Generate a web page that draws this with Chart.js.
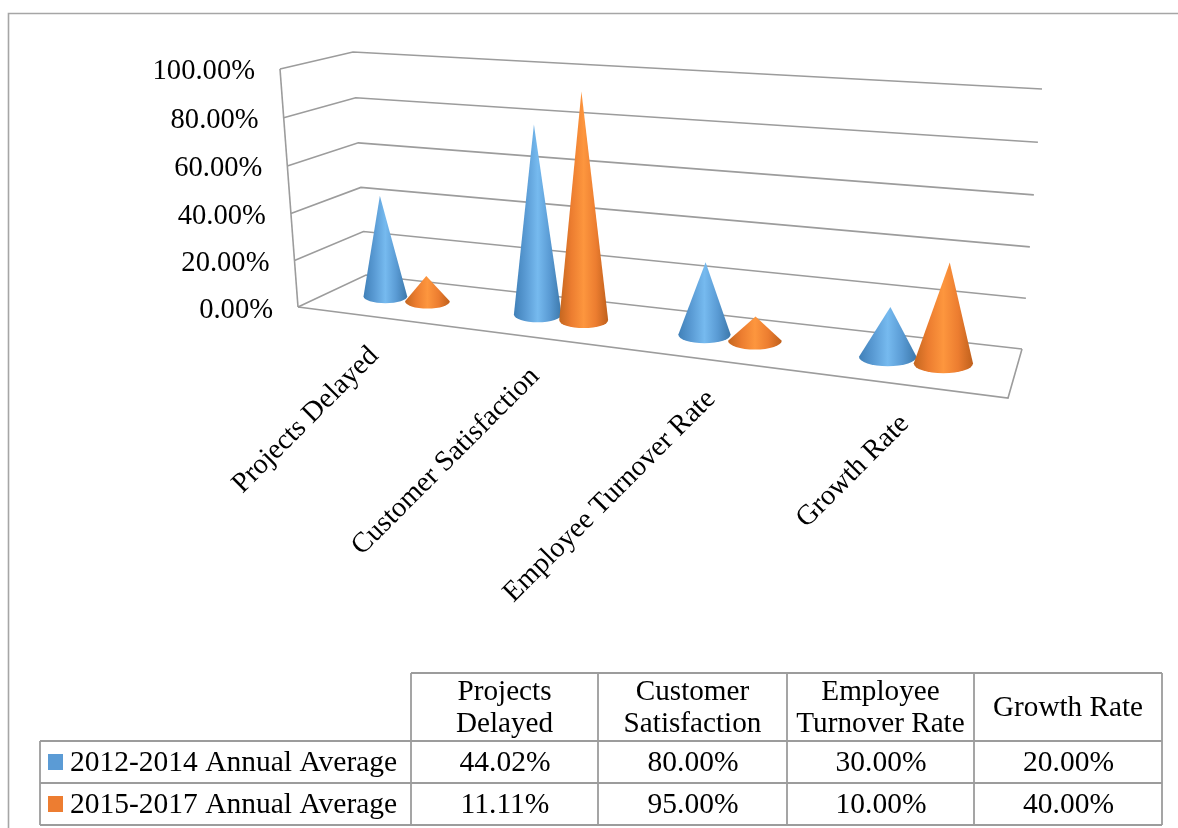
<!DOCTYPE html>
<html>
<head>
<meta charset="utf-8">
<style>
  html, body { margin: 0; padding: 0; background: #fff; overflow: hidden; }
  canvas { display: block; }
</style>
<script src="https://cdn.jsdelivr.net/npm/chart.js@4"></script>
</head>
<body>
<canvas id="coneChart" width="1178" height="828"></canvas>
<script>
const categories = ['Projects Delayed', 'Customer Satisfaction', 'Employee Turnover Rate', 'Growth Rate'];
const seriesNames = ['2012-2014 Annual Average', '2015-2017 Annual Average'];
const avg2012 = [44.02, 80, 30, 20];
const avg2015 = [11.11, 95, 10, 40];
const headerLines = [['Projects', 'Delayed'], ['Customer', 'Satisfaction'], ['Employee', 'Turnover Rate'], ['Growth Rate']];

const FONT = '"Liberation Serif", serif';
const GRID = '#9c9c9c';

// Corners of the 3D box on the page: [x, y], front/back, left/right, floor/top
const box = {
    fl0: [298, 307], fl1: [280, 69], fr0: [1008, 398], fr1: [1028, 138],
    bl0: [366, 275], bl1: [353, 52], br0: [1022, 349], br1: [1042, 89]
};
const CONE_DEPTH = 0.53;   // cones stand a bit behind the middle of the floor
const BASE_DEPTH = 0.21;   // half of the base circle, measured along the depth

// Table rulings
const tableCols = [411, 598, 787, 974, 1162];
const tableRows = [673, 741, 783, 825];
const tableLeft = 40;

const shades = [
    ['#4080b8', '#5a9bd4', '#76baef', '#5a9bd4', '#3c78ab'],
    ['#c4661f', '#ec7d30', '#fd963e', '#ec7d30', '#bf601c']
];
const swatches = ['#5b9bd5', '#ed7d31'];

function lerp(a, b, t) { return a + (b - a) * t; }

// u, v, d are 0..1 along the width, the height and the depth of the box
function project(u, v, d) {
    const pu = 0.83 * u / (1 - 0.17 * u);
    const pv = 0.97 * v / (1 - 0.03 * v);
    const out = [0, 1].map(i => {
        const f0 = lerp(box.fl0[i], box.fr0[i], pu);
        const f1 = lerp(box.fl1[i], box.fr1[i], pu);
        const b0 = lerp(box.bl0[i], box.br0[i], pu);
        const b1 = lerp(box.bl1[i], box.br1[i], pu);
        return lerp(lerp(f0, f1, pv), lerp(b0, b1, pv), d);
    });
    return { x: out[0], y: out[1] };
}

function uOf(chart, px) { return (px - chart.chartArea.left) / chart.chartArea.width; }
function vOf(chart, py) { return (chart.chartArea.bottom - py) / chart.chartArea.height; }

function strokePath(ctx, pts) {
    ctx.beginPath();
    pts.forEach((p, i) => i ? ctx.lineTo(p.x, p.y) : ctx.moveTo(p.x, p.y));
    ctx.stroke();
}

function drawWalls(chart) {
    const ctx = chart.ctx;
    const yScale = chart.scales.y;
    ctx.save();
    ctx.strokeStyle = GRID;
    ctx.lineWidth = 1.6;

    // side and back wall lines, one per tick
    yScale.ticks.forEach(tick => {
        const v = vOf(chart, yScale.getPixelForValue(tick.value));
        strokePath(ctx, [project(0, v, 0), project(0, v, 1), project(1, v, 1)]);
    });
    strokePath(ctx, [project(0, 0, 0), project(0, 1, 0)]);
    strokePath(ctx, [project(0, 0, 0), project(1, 0, 0), project(1, 0, 1)]);

    // value labels follow the slanted front edge
    ctx.fillStyle = '#000';
    ctx.font = '28.6px ' + FONT;
    ctx.textAlign = 'right';
    ctx.textBaseline = 'middle';
    yScale.ticks.forEach(tick => {
        const v = vOf(chart, yScale.getPixelForValue(tick.value));
        const p = project(0, v, 0);
        ctx.fillText(tick.value.toFixed(2) + '%', p.x - 25, p.y + 3.5 - v);
    });

    // category labels at 45 degrees, ending under the front edge
    const xScale = chart.scales.x;
    ctx.font = '28.5px ' + FONT;
    categories.forEach((name, i) => {
        const p = project(uOf(chart, xScale.getPixelForValue(i)), 0, 0);
        ctx.save();
        ctx.translate(p.x + 1, p.y + 35);
        ctx.rotate(-Math.PI / 4);
        ctx.textAlign = 'right';
        ctx.textBaseline = 'middle';
        ctx.fillText(name, 0, 0);
        ctx.restore();
    });
    ctx.restore();
}

function drawCone(chart, bar, colors) {
    const ctx = chart.ctx;
    const u = uOf(chart, bar.x);
    const halfU = uOf(chart, bar.x + bar.width / 2) - u;
    const center = project(u, 0, CONE_DEPTH);
    const tip = project(u, vOf(chart, bar.y), CONE_DEPTH);
    const rx = (project(u + halfU * 1.05, 0, CONE_DEPTH).x - project(u - halfU * 1.05, 0, CONE_DEPTH).x) / 2;
    const ry = Math.abs(project(u, 0, CONE_DEPTH - BASE_DEPTH).y - project(u, 0, CONE_DEPTH + BASE_DEPTH).y) / 2;

    const grad = ctx.createLinearGradient(center.x - rx, 0, center.x + rx, 0);
    colors.forEach((c, i) => grad.addColorStop(i / (colors.length - 1), c));

    ctx.save();
    ctx.fillStyle = grad;
    ctx.beginPath();
    ctx.moveTo(tip.x, tip.y);
    ctx.lineTo(center.x + rx, center.y);
    ctx.ellipse(center.x, center.y, rx, ry, 0, 0, Math.PI);
    ctx.closePath();
    ctx.fill();
    ctx.restore();
}

function drawTable(chart) {
    const ctx = chart.ctx;
    const top = tableRows[0], headBottom = tableRows[1], bottom = tableRows[3];
    const right = tableCols[tableCols.length - 1];
    ctx.save();

    // outer frame of the whole chart, cut by the page edge
    ctx.strokeStyle = '#a6a6a6';
    ctx.lineWidth = 1.6;
    ctx.beginPath();
    ctx.moveTo(8.5, 828);
    ctx.lineTo(8.5, 13.5);
    ctx.lineTo(1178, 13.5);
    ctx.stroke();

    ctx.strokeStyle = '#9c9c9c';
    ctx.lineWidth = 1.8;
    ctx.beginPath();
    ctx.moveTo(tableCols[0], top);
    ctx.lineTo(right, top);
    tableRows.slice(1).forEach(y => {
        ctx.moveTo(tableLeft, y);
        ctx.lineTo(right, y);
    });
    tableCols.forEach(x => {
        ctx.moveTo(x, top);
        ctx.lineTo(x, bottom);
    });
    ctx.moveTo(tableLeft, headBottom);
    ctx.lineTo(tableLeft, bottom);
    ctx.stroke();

    ctx.fillStyle = '#000';
    ctx.font = '29.2px ' + FONT;
    ctx.textBaseline = 'middle';
    ctx.textAlign = 'center';
    headerLines.forEach((lines, c) => {
        const cx = (tableCols[c] + tableCols[c + 1]) / 2;
        const cy = (top + headBottom) / 2 + 1;
        lines.forEach((line, l) => {
            ctx.fillText(line, cx, cy + (l - (lines.length - 1) / 2) * 32);
        });
    });

    chart.data.datasets.forEach((ds, r) => {
        const cy = (tableRows[r + 1] + tableRows[r + 2]) / 2;
        ctx.font = '29.5px ' + FONT;
        ds.data.forEach((value, c) => {
            ctx.fillStyle = '#000';
            ctx.textAlign = 'center';
            ctx.fillText(value.toFixed(2) + '%', (tableCols[c] + tableCols[c + 1]) / 2 + 0.5, cy + 1);
        });
        ctx.fillStyle = swatches[r];
        ctx.fillRect(48, cy - 8, 15, 16);
        ctx.fillStyle = '#000';
        ctx.textAlign = 'left';
        ctx.font = '29.5px ' + FONT;
        ctx.fillText(ds.label, 70, cy + 1);
    });
    ctx.restore();
}

const conePlugin = {
    id: 'cones',
    beforeDatasetsDraw(chart) { drawWalls(chart); },
    afterDatasetsDraw(chart) {
        chart.data.datasets.forEach((ds, i) => {
            chart.getDatasetMeta(i).data.forEach(bar => drawCone(chart, bar, shades[i]));
        });
    },
    afterDraw(chart) { drawTable(chart); }
};

new Chart(document.getElementById('coneChart'), {
    type: 'bar',
    data: {
        labels: categories,
        datasets: [
            { label: seriesNames[0], data: avg2012, backgroundColor: 'rgba(0,0,0,0)' },
            { label: seriesNames[1], data: avg2015, backgroundColor: 'rgba(0,0,0,0)' }
        ]
    },
    options: {
        responsive: false,
        animation: false,
        categoryPercentage: 0.57,
        barPercentage: 1,
        plugins: { legend: { display: false }, tooltip: { enabled: false } },
        scales: {
            x: { display: false },
            y: { display: false, min: 0, max: 100, ticks: { stepSize: 20 } }
        }
    },
    plugins: [conePlugin]
});
</script>
</body>
</html>
